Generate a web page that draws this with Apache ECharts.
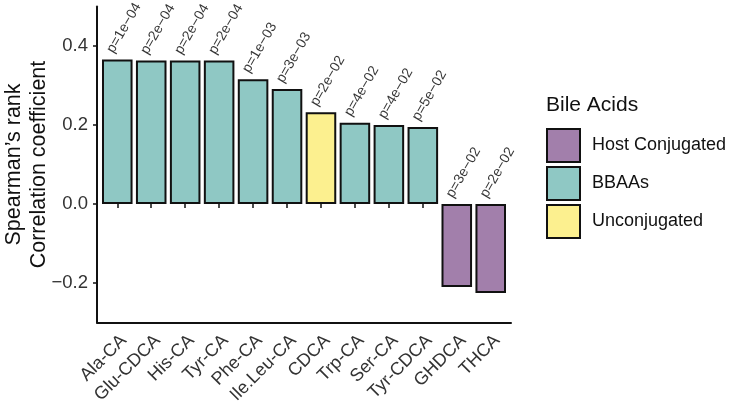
<!DOCTYPE html>
<html>
<head>
<meta charset="utf-8">
<script src="https://cdn.jsdelivr.net/npm/echarts@6/dist/echarts.min.js"></script>
<style>
html,body{margin:0;padding:0;background:#fff;}
#chart{width:732px;height:404px;}
</style>
</head>
<body>
<div id="chart"></div>
<script>
const categories = ['Ala-CA','Glu-CDCA','His-CA','Tyr-CA','Phe-CA','Ile.Leu-CA','CDCA','Trp-CA','Ser-CA','Tyr-CDCA','GHDCA','THCA'];
const rhoValues = [0.366, 0.363, 0.363, 0.363, 0.316, 0.291, 0.232, 0.206, 0.200, 0.195, -0.210, -0.225];
const groups = ['BBAAs','BBAAs','BBAAs','BBAAs','BBAAs','BBAAs','Unconjugated','BBAAs','BBAAs','BBAAs','Host Conjugated','Host Conjugated'];
const pLabels = ['p=1e\u221204','p=2e\u221204','p=2e\u221204','p=2e\u221204','p=1e\u221203','p=3e\u221203','p=2e\u221202','p=4e\u221202','p=4e\u221202','p=5e\u221202','p=3e\u221202','p=2e\u221202'];
const groupNames = ['Host Conjugated','BBAAs','Unconjugated'];
const groupColors = {'Host Conjugated':'#a27fab','BBAAs':'#8fc8c4','Unconjugated':'#fcf08f'};
const yTicks = [-0.2, 0, 0.2, 0.4];

const FONT = 'Liberation Sans, Arial, Helvetica, sans-serif';
const fmt = v => (v < 0 ? '\u2212' : '') + Math.abs(v).toFixed(1);

const barSeries = groupNames.map(name => ({
  name: name,
  type: 'bar',
  stack: 'all',
  xAxisIndex: 0, yAxisIndex: 0,
  barWidth: '90%',
  itemStyle: {color: groupColors[name], borderColor: '#111', borderWidth: 2},
  data: rhoValues.map((v, i) => groups[i] === name ? v : '-')
}));

const labelSeries = {
  type: 'scatter',
  xAxisIndex: 0, yAxisIndex: 0,
  symbolSize: 0,
  silent: true,
  itemStyle: {color: 'transparent'},
  data: rhoValues.map(v => Math.max(v, 0)),
  label: {
    show: true,
    position: [-1, -4],
    align: 'left',
    verticalAlign: 'bottom',
    rotate: 60,
    fontSize: 14,
    fontFamily: FONT,
    color: '#000',
    formatter: p => pLabels[p.dataIndex]
  }
};

const chart = echarts.init(document.getElementById('chart'));
chart.setOption({
  animation: false,
  backgroundColor: '#fff',
  title: {
    text: 'Bile Acids',
    left: 546, top: 95,
    padding: 0,
    textStyle: {fontSize: 21, fontWeight: 'normal', color: '#111', fontFamily: FONT}
  },
  legend: {
    orient: 'vertical',
    left: 546, top: 128,
    padding: 0,
    itemWidth: 33, itemHeight: 33, itemGap: 3,
    icon: 'rect',
    data: groupNames,
    itemStyle: {borderColor: '#111', borderWidth: 2},
    textStyle: {fontSize: 18, color: '#111', fontFamily: FONT, padding: [0, 0, 0, 7]}
  },
  grid: [
    {left: 100.3, right: 224.3, top: 6.5, bottom: 81.5, outerBoundsMode: 'none', containLabel: false},
    {left: 97, right: 221, top: 6.5, bottom: 81.5, outerBoundsMode: 'none', containLabel: false}
  ],
  xAxis: [
    {
      type: 'category', gridIndex: 0, data: categories,
      axisLine: {show: false},
      axisTick: {show: true, alignWithLabel: true, length: 4, lineStyle: {color: '#111', width: 1.5}},
      axisLabel: {rotate: 45, margin: 9, fontSize: 18, color: '#333', fontFamily: FONT, interval: 0, verticalAlign: 'top'},
      splitLine: {show: false}
    },
    {
      type: 'value', gridIndex: 1, min: 0, max: 1,
      axisLine: {show: true, onZero: false, lineStyle: {color: '#111', width: 2}},
      axisTick: {show: false}, axisLabel: {show: false}, splitLine: {show: false}
    }
  ],
  yAxis: [
    {type: 'value', gridIndex: 0, min: -0.3, max: 0.5, show: false, splitLine: {show: false}},
    {
      type: 'value', gridIndex: 1, min: -0.3, max: 0.5,
      name: 'Spearman\u2019s rank\nCorrelation coefficient',
      nameLocation: 'middle', nameGap: 45, nameMoveOverlap: false,
      nameTextStyle: {fontSize: 21.5, lineHeight: 25, color: '#111', fontFamily: FONT, align: 'center'},
      axisLine: {show: true, onZero: false, lineStyle: {color: '#111', width: 2}},
      axisTick: {show: true, length: 4, customValues: yTicks, lineStyle: {color: '#111', width: 1.5}},
      axisLabel: {customValues: yTicks, formatter: fmt, margin: 9, fontSize: 18.5, color: '#333', fontFamily: FONT},
      splitLine: {show: false}
    }
  ],
  series: barSeries.concat([labelSeries])
});
</script>
</body>
</html>
